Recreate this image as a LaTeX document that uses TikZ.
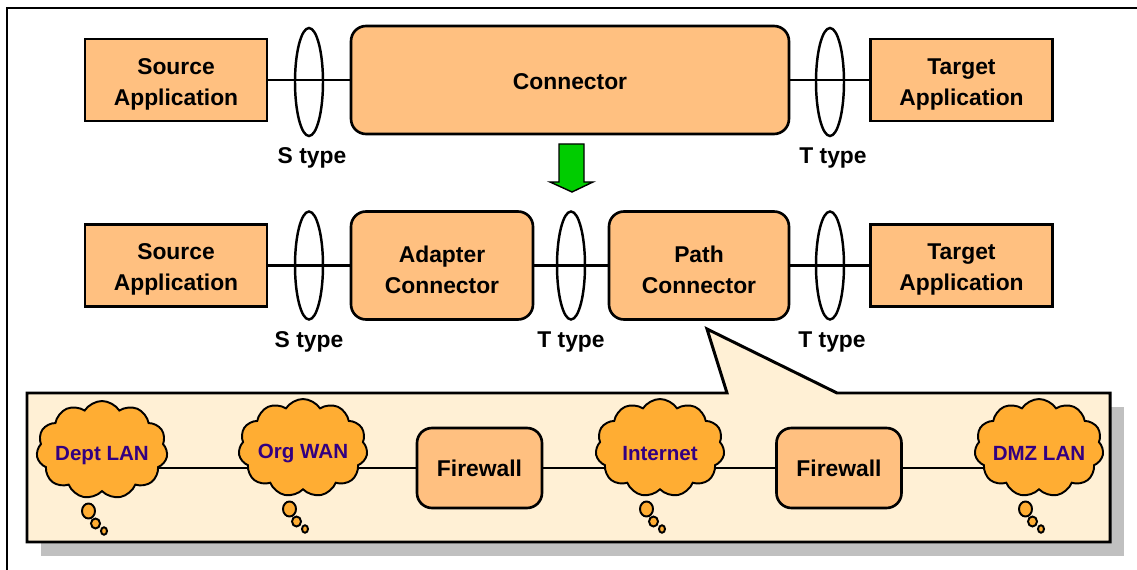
\documentclass[tikz,border=0pt]{standalone}
\usepackage{fontspec}
\setmainfont{Liberation Sans}
\usetikzlibrary{shapes.geometric,shapes.symbols,backgrounds}
\definecolor{boxfill}{HTML}{FFC080}
\definecolor{cloudfill}{HTML}{FFAD33}
\definecolor{calloutfill}{HTML}{FFF0D5}
\definecolor{shadowgrey}{HTML}{C0C0C0}
\definecolor{netblue}{HTML}{330080}
\definecolor{arrowgreen}{HTML}{00CC00}
% lifts the first line of a two-line label so the pair sits centred
\newcommand{\firststrut}{\rule{0pt}{14pt}}
\tikzset{
  appbox/.style={draw, line width=1.5pt, fill=boxfill, minimum width=3.64cm,
    minimum height=1.64cm, align=center, inner sep=0pt},
  conbox/.style={draw, line width=1.5pt, fill=boxfill, rounded corners=0.3cm,
    minimum height=2.16cm, align=center, inner sep=0pt},
  fwbox/.style={draw, line width=1.5pt, fill=boxfill, rounded corners=0.3cm,
    minimum width=2.5cm, minimum height=1.6cm, inner sep=0pt},
  typering/.style={draw, ellipse, line width=1.4pt, minimum width=0.56cm,
    minimum height=2.16cm, inner sep=0pt},
  typelabel/.style={inner sep=0pt},
  link/.style={line width=1.2pt},
  net/.style={draw, cloud, cloud puffs=11, cloud puff arc=115, cloud ignores aspect,
    fill=cloudfill, line width=1.1pt, minimum width=2.58cm, minimum height=1.96cm,
    inner sep=0pt, text=netblue, font=\fontsize{11.7}{14}\selectfont\bfseries},
  bubble/.style={draw, fill=cloudfill, line width=1.1pt},
  callout/.style={draw, line width=1.7pt, fill=calloutfill},
}
\begin{document}
\begin{tikzpicture}[x=0.02cm, y=-0.02cm, font=\fontsize{13}{17.6}\selectfont\bfseries]
\useasboundingbox (0,0) rectangle (1137,570);

% page frame (top and left rules)
\draw[line width=0.9pt] (7,570) -- (7,8) -- (1137,8);

% ---- callout panel with its drop shadow (kept underneath everything) ----
\begin{scope}[on background layer]
  \fill[shadowgrey] (41,407) rectangle (1124,556);
  \coordinate (tip) at (707,329);
  \draw[callout] (27,393) -- (727,393) -- (tip) -- (837,393) -- (1110,393)
    -- (1110,542) -- (27,542) -- cycle;
\end{scope}

% ---- first row: single connector ----
\node[appbox] (src1) at (176,80) {\firststrut Source\\Application};
\node[conbox, minimum width=8.76cm] (conn) at (570,80) {\raisebox{-1pt}[\height][\depth]{Connector}};
\node[appbox] (tgt1) at (961.5,80) {\firststrut Target\\Application};
\begin{scope}[on background layer]
  \draw[link] (src1) -- (conn) -- (tgt1);
\end{scope}
\node[typering] (s1) at (309,82) {};
\node[typering] (t1) at (830,82) {};
\node[typelabel] (s1lab) at (312,158) {S type};
\node[typelabel] (t1lab) at (833,158) {T type};

% refinement arrow
\filldraw[fill=arrowgreen, draw=black, line width=0.8pt]
  (559,144) -- (584,144) -- (584,182) -- (593,182) -- (572,192)
  -- (550,182) -- (559,182) -- cycle;

% ---- second row: adapter + path connector ----
\node[appbox] (src2) at (176,265.5) {\firststrut Source\\Application};
\node[conbox, minimum width=3.64cm] (adapter) at (442,265.5) {\firststrut Adapter\\Connector};
\node[conbox, minimum width=3.6cm] (path) at (699,265.5) {\firststrut Path\\Connector};
\node[appbox] (tgt2) at (961.5,265.5) {\firststrut Target\\Application};
\begin{scope}[on background layer]
  \draw[link] (src2) -- (adapter) -- (path) -- (tgt2);
\end{scope}
\node[typering] (s2) at (309,265.5) {};
\node[typering] (t2) at (571,265.5) {};
\node[typering] (t3) at (830,265.5) {};
\node[typelabel] (s2lab) at (309,342) {S type};
\node[typelabel] (t2lab) at (571,342) {T type};
\node[typelabel] (t3lab) at (832,342) {T type};

% ---- path details inside the callout ----
\node[net] (dept) at (102,450) {\raisebox{-3pt}[\height][\depth]{Dept LAN}};
\node[net] (org) at (303,448) {\raisebox{-3pt}[\height][\depth]{Org WAN}};
\node[fwbox] (fw1) at (479.5,468) {Firewall};
\node[net] (inet) at (660,448) {\raisebox{-3pt}[\height][\depth]{Internet}};
\node[fwbox] (fw2) at (839,468) {Firewall};
\node[net] (dmz) at (1039,448) {\raisebox{-3pt}[\height][\depth]{DMZ LAN}};
\begin{scope}[on background layer]
  \draw[link] (dept.center |- fw1.center) -- (fw1) -- (fw2) -- (dmz.center |- fw2.center);
\end{scope}

% thought bubbles under each cloud
\foreach \c in {dept,org,inet,dmz}{
  \draw[bubble] ([shift={(-13.5,61)}]\c.center) ellipse [x radius=0.13cm, y radius=0.15cm];
  \draw[bubble] ([shift={(-6.5,73.5)}]\c.center) ellipse [x radius=0.09cm, y radius=0.1cm];
  \draw[bubble] ([shift={(2,81)}]\c.center) ellipse [x radius=0.06cm, y radius=0.075cm];
}
\end{tikzpicture}
\end{document}
